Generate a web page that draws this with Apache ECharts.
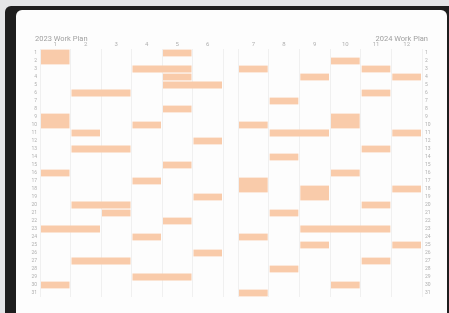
<!DOCTYPE html>
<html>
<head>
<meta charset="utf-8">
<script src="https://cdn.jsdelivr.net/npm/echarts@6/dist/echarts.min.js"></script>
<style>
  html, body { margin: 0; padding: 0; background: #e4e5e7; overflow: hidden; }
  .frame { position: absolute; left: 5px; top: 6px; width: 444px; height: 307px; background: #1e1e1e; border-top-left-radius: 6px; }
  .card { position: absolute; left: 16px; top: 10px; width: 431px; height: 310px; background: #fdfdfd; border-radius: 6px 6px 0 0; }
  #chart { position: absolute; left: 0; top: 0; width: 449px; height: 313px; }
</style>
</head>
<body>
<div class="frame"></div>
<div class="card"></div>
<div id="chart"></div>
<script>
// 标题
const leftTitle = '2023 Work Plan'
const rightTitle = '2024 Work Plan'
// 月份
const firstHalfMonths = ['1', '2', '3', '4', '5', '6']
const secondHalfMonths = ['7', '8', '9', '10', '11', '12']
// 日期
const days = ['1', '2', '3', '4', '5', '6', '7', '8', '9', '10', '11', '12', '13', '14', '15', '16',
  '17', '18', '19', '20', '21', '22', '23', '24', '25', '26', '27', '28', '29', '30', '31']
// 任务: [起始月, 结束月, 起始日, 结束日]
const firstHalfTasks = [
  [1, 1, 1, 2], [1, 1, 9, 10], [1, 1, 16, 16], [1, 2, 23, 23], [1, 1, 30, 30],
  [2, 3, 6, 6], [2, 2, 11, 11], [2, 3, 13, 13], [2, 3, 20, 20], [3, 3, 21, 21], [2, 3, 27, 27],
  [4, 5, 3, 3], [4, 4, 10, 10], [4, 4, 17, 17], [4, 4, 24, 24], [4, 5, 29, 29],
  [5, 5, 1, 1], [5, 5, 4, 4], [5, 6, 5, 5], [5, 5, 8, 8], [5, 5, 15, 15], [5, 5, 22, 22],
  [6, 6, 12, 12], [6, 6, 19, 19], [6, 6, 26, 26]
]
const secondHalfTasks = [
  [7, 7, 3, 3], [7, 7, 10, 10], [7, 7, 17, 18], [7, 7, 24, 24], [7, 7, 31, 31],
  [8, 8, 7, 7], [8, 9, 11, 11], [8, 8, 14, 14], [8, 8, 21, 21], [8, 8, 28, 28],
  [9, 9, 4, 4], [9, 9, 18, 19], [9, 11, 23, 23], [9, 9, 25, 25],
  [10, 10, 2, 2], [10, 10, 9, 10], [10, 10, 16, 16], [10, 10, 30, 30],
  [11, 11, 3, 3], [11, 11, 6, 6], [11, 11, 13, 13], [11, 11, 20, 20], [11, 11, 27, 27],
  [12, 12, 4, 4], [12, 12, 11, 11], [12, 12, 18, 18], [12, 12, 25, 25]
]

const barColor = '#f9cbaa'
const labelColor = '#b0b0b0'

// 把任务转换成类目索引
const toData = (tasks, offset) => tasks.map(t => [t[0] - offset, t[1] - offset, t[2] - 1, t[3] - 1])

const renderItem = (params, api) => {
  const start = api.coord([api.value(0), api.value(2)])
  const end = api.coord([api.value(1), api.value(3)])
  const size = api.size([1, 1])
  return {
    type: 'rect',
    shape: {
      x: start[0] - size[0] / 2 + 1,
      y: start[1] - size[1] / 2 + 0.6,
      width: end[0] - start[0] + size[0] - 2,
      height: end[1] - start[1] + size[1] - 1.2
    },
    style: { fill: barColor }
  }
}

const xAxisBase = {
  type: 'category',
  position: 'top',
  axisLine: { show: false },
  axisTick: { show: false },
  axisLabel: { color: labelColor, fontSize: 6, margin: 2, fontFamily: 'Roboto' },
  splitLine: { show: true, lineStyle: { color: '#f0f0f0', width: 1 } }
}
const yAxisBase = {
  type: 'category',
  data: days,
  inverse: true,
  axisLine: { show: false },
  axisTick: { show: false },
  axisLabel: { color: labelColor, fontSize: 5, margin: 3, fontFamily: 'Roboto', interval: 0 },
  splitLine: { show: false }
}

const chart = echarts.init(document.getElementById('chart'))
chart.setOption({
  animation: false,
  title: [
    { text: leftTitle, left: 30, top: 30, textStyle: { fontSize: 7.5, color: '#a0a0a0', fontWeight: 'normal', fontFamily: 'Roboto' } },
    { text: rightTitle, right: 16, top: 30, textStyle: { fontSize: 7.5, color: '#a0a0a0', fontWeight: 'normal', fontFamily: 'Roboto' } }
  ],
  grid: [
    { left: 40, top: 49, width: 183, height: 248 },
    { left: 238, top: 49, width: 184, height: 248 }
  ],
  xAxis: [
    { ...xAxisBase, gridIndex: 0, data: firstHalfMonths },
    { ...xAxisBase, gridIndex: 1, data: secondHalfMonths }
  ],
  yAxis: [
    { ...yAxisBase, gridIndex: 0, position: 'left' },
    { ...yAxisBase, gridIndex: 1, position: 'right' }
  ],
  series: [
    { type: 'custom', xAxisIndex: 0, yAxisIndex: 0, renderItem, data: toData(firstHalfTasks, 1) },
    { type: 'custom', xAxisIndex: 1, yAxisIndex: 1, renderItem, data: toData(secondHalfTasks, 7) }
  ]
})
</script>
</body>
</html>
